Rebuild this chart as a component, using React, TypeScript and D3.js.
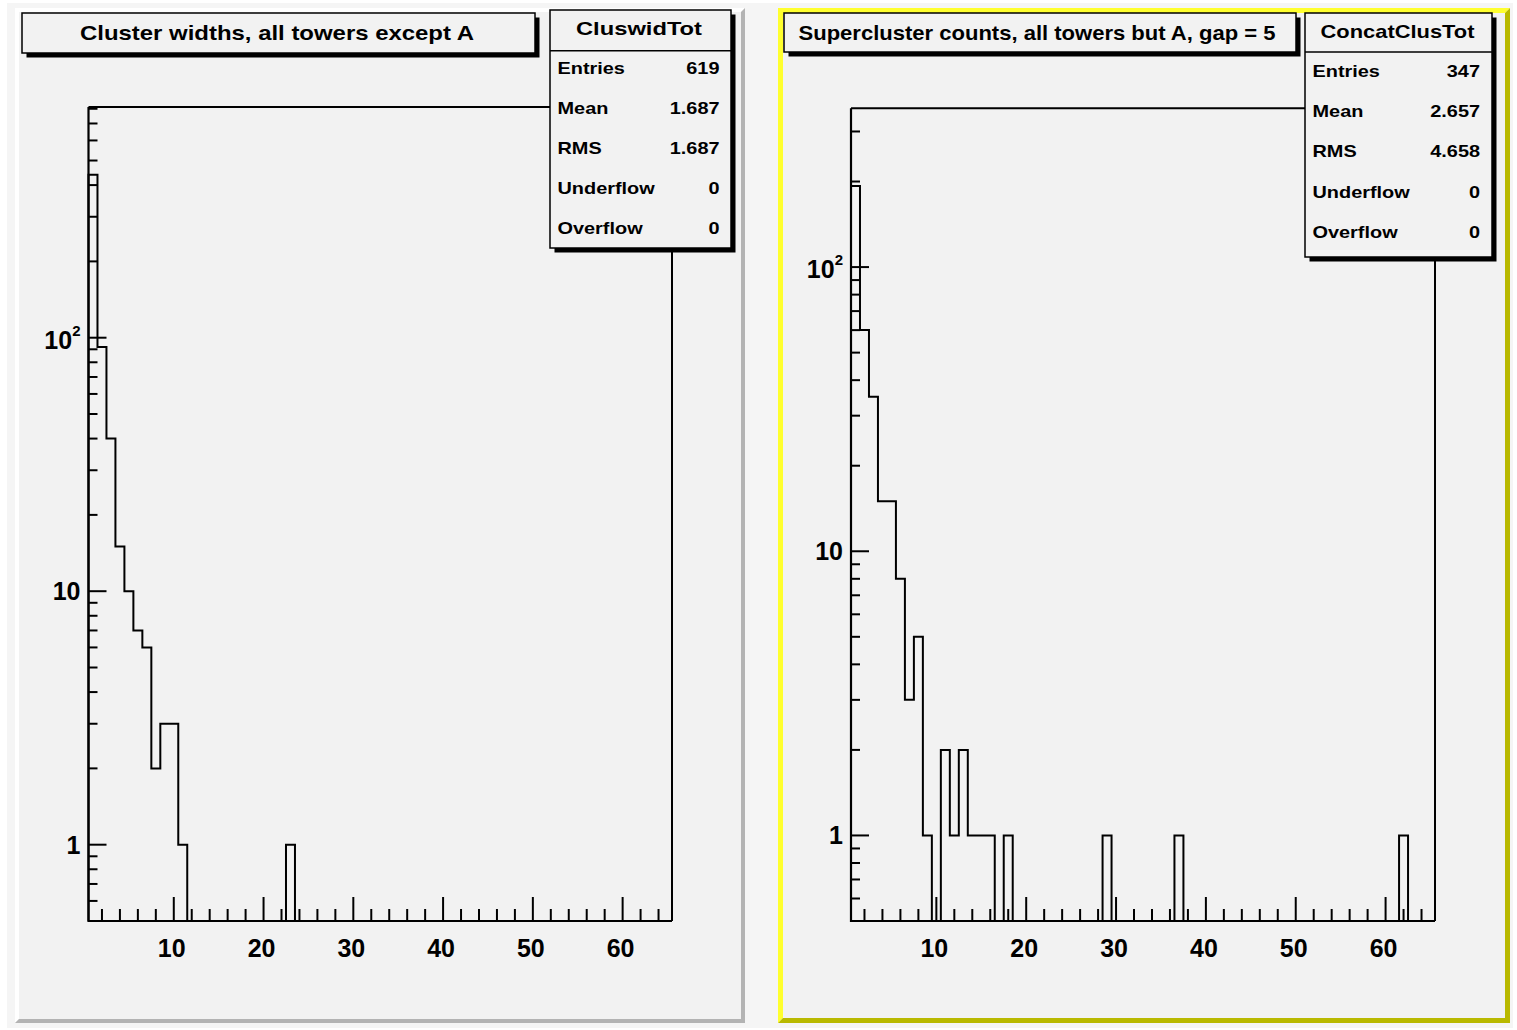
import React, {useEffect, useRef} from 'react';
import * as d3 from 'd3';

// histogram binning shared by both pads
const binLow = 0.5;
const binHigh = 65.5;
const nBins = 65;

const widthBins = [1, 2, 3, 4, 5, 6, 7, 8, 9, 10, 11, 23];
const widthCounts = [439, 92, 40, 15, 10, 7, 6, 2, 3, 3, 1, 1];

const superBins = [1, 2, 3, 4, 5, 6, 7, 8, 9, 11, 12, 13, 14, 15, 16, 18, 29, 37, 62];
const superCounts = [193, 60, 35, 15, 15, 8, 3, 5, 1, 2, 1, 2, 1, 1, 1, 1, 1, 1, 1];

const statNames = ['Entries', 'Mean', 'RMS', 'Underflow', 'Overflow'];
const widthStats = ['619', '1.687', '1.687', '0', '0'];
const superStats = ['347', '2.657', '4.658', '0', '0'];

const xLabelTicks = [10, 20, 30, 40, 50, 60];
const yDecades = [1, 10, 100];

const widthYRange = [0.5, 813];
const superYRange = [0.5, 362];

const FONT = '"Liberation Sans", Arial, Helvetica, sans-serif';
const BG = '#f2f2f2';

const panels = [
    {
        title: 'Cluster widths, all towers except A',
        name: 'CluswidTot',
        bins: widthBins,
        counts: widthCounts,
        stats: widthStats,
        yRange: widthYRange,
        pad: {x0: 15, y0: 8, x1: 745, y1: 1023, bw: 4, light: '#ffffff', dark: '#b3b3b3'},
        frame: {x0: 88.5, x1: 672, y0: 107, y1: 921},
        titleBox: {x: 22, y: 13, w: 513, h: 40, cx: 277, textW: 394, base: 40},
        statBox: {x: 550, y: 10, w: 181, h: 238, sep: 50.7, cx: 639, headW: 126, headBase: 35,
            row0: 74, rowStep: 40, labelX: 557.5, valueX: 719.5}
    },
    {
        title: 'Supercluster counts, all towers but A, gap = 5',
        name: 'ConcatClusTot',
        bins: superBins,
        counts: superCounts,
        stats: superStats,
        yRange: superYRange,
        pad: {x0: 778, y0: 8, x1: 1510, y1: 1023, bw: 5, light: '#ffff2e', dark: '#b9b900'},
        frame: {x0: 851, x1: 1435, y0: 108.3, y1: 921},
        titleBox: {x: 784, y: 13, w: 512, h: 39, cx: 1037, textW: 477, base: 40},
        statBox: {x: 1305, y: 13, w: 187, h: 244, sep: 52, cx: 1397.5, headW: 154, headBase: 38,
            row0: 76.5, rowStep: 40.4, labelX: 1312.5, valueX: 1480}
    }
];

function drawPad(g, pad) {
    const {x0, y0, x1, y1, bw} = pad;
    g.append('rect')
        .attr('x', x0).attr('y', y0)
        .attr('width', x1 - x0).attr('height', y1 - y0)
        .attr('fill', BG);
    g.append('path')
        .attr('d', `M${x0},${y0}L${x1},${y0}L${x1 - bw},${y0 + bw}L${x0 + bw},${y0 + bw}L${x0 + bw},${y1 - bw}L${x0},${y1}Z`)
        .attr('fill', pad.light);
    g.append('path')
        .attr('d', `M${x1},${y0}L${x1},${y1}L${x0},${y1}L${x0 + bw},${y1 - bw}L${x1 - bw},${y1 - bw}L${x1 - bw},${y0 + bw}Z`)
        .attr('fill', pad.dark);
}

function boxWithShadow(g, x, y, w, h) {
    g.append('rect')
        .attr('x', x + 4.5).attr('y', y + 4.5)
        .attr('width', w).attr('height', h)
        .attr('fill', '#000');
    g.append('rect')
        .attr('x', x).attr('y', y)
        .attr('width', w).attr('height', h)
        .attr('fill', BG)
        .attr('stroke', '#000')
        .attr('stroke-width', 1.5);
}

function drawPanel(svg, p) {
    const g = svg.append('g');
    const f = p.frame;

    drawPad(g, p.pad);

    const x = d3.scaleLinear().domain([binLow, binHigh]).range([f.x0, f.x1]);
    const y = d3.scaleLog().domain(p.yRange).range([f.y1, f.y0]);

    // frame top and right
    g.append('path')
        .attr('d', `M${f.x0},${f.y0}H${f.x1}V${f.y1}`)
        .attr('fill', 'none')
        .attr('stroke', '#000')
        .attr('stroke-width', 2);

    // histogram outline
    const full = d3.range(1, nBins + 1).map((c) => {
        const i = p.bins.indexOf(c);
        return i < 0 ? 0 : p.counts[i];
    });
    const pts = [[x(binLow), y(p.yRange[0])]];
    full.forEach((v, i) => {
        const c = i + 1;
        const yy = v > 0 ? y(v) : y(p.yRange[0]);
        pts.push([x(c - 0.5), yy]);
        pts.push([x(c + 0.5), yy]);
    });
    pts.push([x(binHigh), y(p.yRange[0])]);
    g.append('path')
        .attr('d', d3.line()(pts))
        .attr('fill', 'none')
        .attr('stroke', '#000')
        .attr('stroke-width', 2)
        .attr('stroke-linejoin', 'miter');

    // axes
    g.append('path')
        .attr('d', `M${f.x0},${f.y0}V${f.y1}H${f.x1}`)
        .attr('fill', 'none')
        .attr('stroke', '#000')
        .attr('stroke-width', 2.2);

    const xTicks = d3.range(2, 65, 2);
    g.selectAll('.xtick')
        .data(xTicks)
        .enter()
        .append('line')
        .attr('x1', (d) => x(d)).attr('x2', (d) => x(d))
        .attr('y1', f.y1)
        .attr('y2', (d) => f.y1 - (d % 10 === 0 ? 24 : 12))
        .attr('stroke', '#000')
        .attr('stroke-width', 2);

    g.selectAll('.xlab')
        .data(xLabelTicks)
        .enter()
        .append('text')
        .attr('x', (d) => x(d) - 2)
        .attr('y', f.y1 + 36)
        .attr('text-anchor', 'middle')
        .attr('font-family', FONT)
        .attr('font-weight', 'bold')
        .attr('font-size', 25)
        .text((d) => d);

    const yTicks = [];
    [-1, 0, 1, 2].forEach((k) => {
        d3.range(1, 10).forEach((m) => {
            const v = m * Math.pow(10, k);
            if (v > p.yRange[0] && v <= p.yRange[1]) yTicks.push({v, major: m === 1});
        });
    });
    g.selectAll('.ytick')
        .data(yTicks)
        .enter()
        .append('line')
        .attr('x1', f.x0)
        .attr('x2', (d) => f.x0 + (d.major ? 18 : 9))
        .attr('y1', (d) => y(d.v)).attr('y2', (d) => y(d.v))
        .attr('stroke', '#000')
        .attr('stroke-width', 2);

    yDecades.forEach((d) => {
        const t = g.append('text')
            .attr('x', f.x0 - 8)
            .attr('y', y(d) + (d === 100 ? 11 : 9))
            .attr('text-anchor', 'end')
            .attr('font-family', FONT)
            .attr('font-weight', 'bold')
            .attr('font-size', 25);
        if (d === 100) {
            t.append('tspan').text('10');
            t.append('tspan').attr('dy', -13).attr('font-size', 15).text('2');
        } else {
            t.text(d);
        }
    });

    // title box
    const tb = p.titleBox;
    boxWithShadow(g, tb.x, tb.y, tb.w, tb.h);
    g.append('text')
        .attr('x', tb.cx)
        .attr('y', tb.base)
        .attr('text-anchor', 'middle')
        .attr('font-family', FONT)
        .attr('font-weight', 'bold')
        .attr('font-size', 21)
        .attr('textLength', tb.textW)
        .attr('lengthAdjust', 'spacingAndGlyphs')
        .text(p.title);

    // stats box
    const sb = p.statBox;
    boxWithShadow(g, sb.x, sb.y, sb.w, sb.h);
    g.append('line')
        .attr('x1', sb.x).attr('x2', sb.x + sb.w)
        .attr('y1', sb.sep).attr('y2', sb.sep)
        .attr('stroke', '#000')
        .attr('stroke-width', 1.5);
    g.append('text')
        .attr('x', sb.cx)
        .attr('y', sb.headBase)
        .attr('text-anchor', 'middle')
        .attr('font-family', FONT)
        .attr('font-weight', 'bold')
        .attr('font-size', 19)
        .attr('textLength', sb.headW)
        .attr('lengthAdjust', 'spacingAndGlyphs')
        .text(p.name);

    statNames.forEach((name, i) => {
        const by = sb.row0 + i * sb.rowStep;
        g.append('text')
            .attr('transform', `translate(${sb.labelX},${by}) scale(1.17,1)`)
            .attr('font-family', FONT)
            .attr('font-weight', 'bold')
            .attr('font-size', 17)
            .text(name);
        g.append('text')
            .attr('transform', `translate(${sb.valueX},${by}) scale(1.17,1)`)
            .attr('text-anchor', 'end')
            .attr('font-family', FONT)
            .attr('font-weight', 'bold')
            .attr('font-size', 17)
            .text(p.stats[i]);
    });
}

export default function App() {
    const ref = useRef(null);

    useEffect(() => {
        const svg = d3.select(ref.current);
        svg.selectAll('*').remove();
        svg.append('rect')
            .attr('x', 0).attr('y', 0)
            .attr('width', 1517).attr('height', 1030)
            .attr('fill', '#ffffff');
        svg.append('rect')
            .attr('x', 7).attr('y', 3)
            .attr('width', 1506).attr('height', 1025)
            .attr('fill', '#f5f5f5');
        panels.forEach((p) => drawPanel(svg, p));
    }, []);

    return (
        <svg ref={ref} width={1517} height={1030}
             style={{position: 'absolute', left: 0, top: 0, display: 'block'}}/>
    );
}
